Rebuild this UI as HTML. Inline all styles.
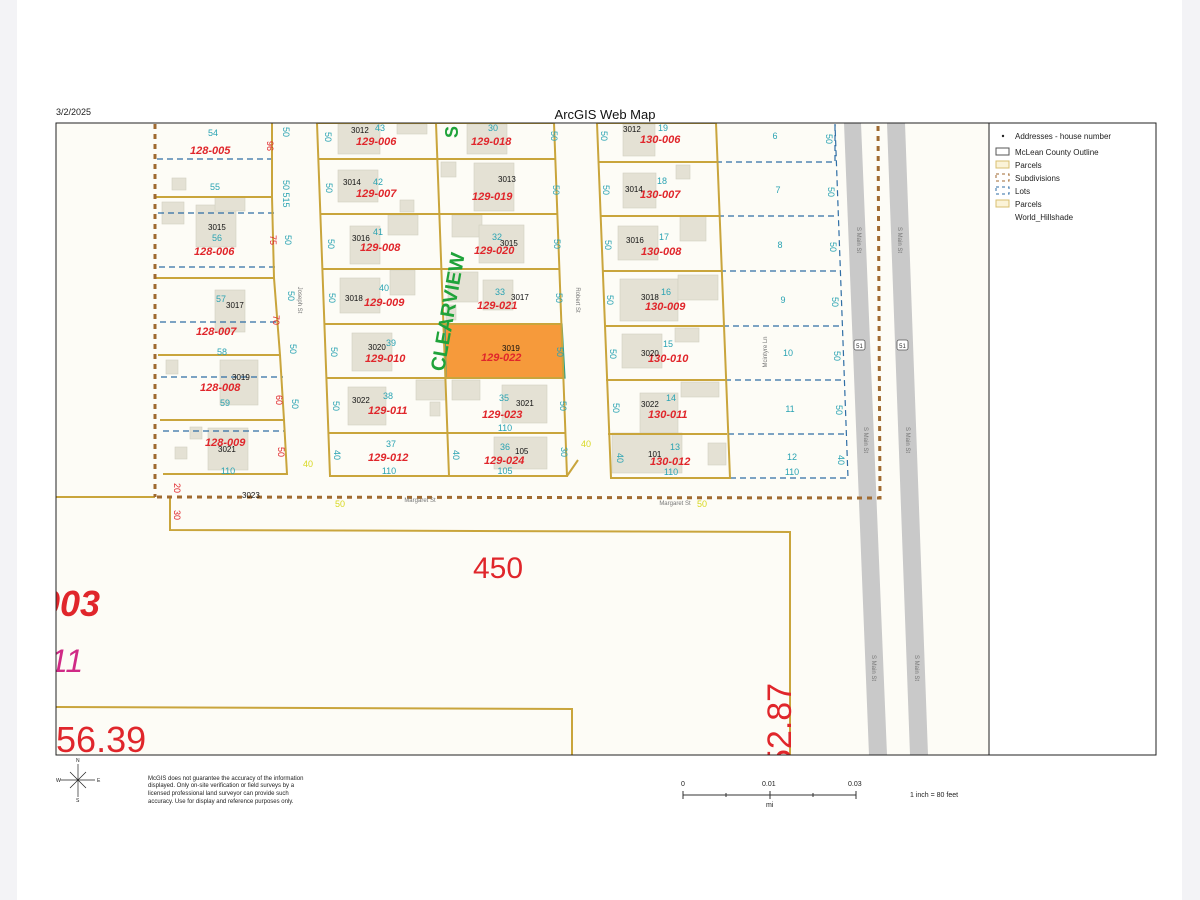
<!DOCTYPE html>
<html><head><meta charset="utf-8"><style>
html,body{margin:0;padding:0;background:#f3f3f6;}
svg{display:block}
text{font-family:"Liberation Sans",sans-serif}
.r{fill:#e0262b;font-weight:bold;font-style:italic;font-size:11px}
.t{fill:#2aa3b3;font-size:9px}
.d{fill:#2aa3b3;font-size:9px}
.a{fill:#111;font-size:8px}
.p{fill:none;stroke:#c9a53c;stroke-width:2}
.l{fill:none;stroke:#2f6ea5;stroke-width:1.2;stroke-dasharray:6,4}
.h{fill:#e4e1d4;stroke:#d3d0c2;stroke-width:.6}
.g{fill:#777;font-size:6px}
</style></head><body>
<svg width="1200" height="900" xmlns="http://www.w3.org/2000/svg">
<defs><clipPath id="m"><rect x="56" y="123" width="933" height="632"/></clipPath></defs>
<rect x="17" y="0" width="1165" height="900" fill="#fff"/>
<rect x="56" y="123" width="933" height="632" fill="#fdfcf6"/>
<text x="56" y="115" font-size="9" fill="#222">3/2/2025</text>
<text x="605" y="119" font-size="13" fill="#111" text-anchor="middle">ArcGIS Web Map</text>

<g clip-path="url(#m)">
<polygon points="844,123 861,123 887,755 869,755" fill="#c9c9c9"/>
<polygon points="887,123 905,123 928,755 910,755" fill="#c9c9c9"/>

<g class="h">
<rect x="172" y="178" width="14" height="12"/><rect x="196" y="205" width="40" height="42"/><rect x="162" y="202" width="22" height="22"/><rect x="215" y="197" width="30" height="14"/>
<rect x="215" y="290" width="30" height="42"/><rect x="220" y="360" width="38" height="45"/><rect x="166" y="360" width="12" height="14"/>
<rect x="208" y="428" width="40" height="42"/><rect x="190" y="427" width="12" height="12"/><rect x="175" y="447" width="12" height="12"/>
<rect x="338" y="124" width="42" height="30"/><rect x="397" y="124" width="30" height="10"/>
<rect x="338" y="170" width="40" height="32"/><rect x="400" y="200" width="14" height="12"/>
<rect x="350" y="226" width="30" height="38"/><rect x="388" y="215" width="30" height="20"/>
<rect x="340" y="278" width="40" height="35"/><rect x="390" y="270" width="25" height="25"/>
<rect x="352" y="333" width="40" height="38"/>
<rect x="348" y="387" width="38" height="38"/><rect x="416" y="380" width="30" height="20"/><rect x="430" y="402" width="10" height="14"/>
<rect x="467" y="124" width="40" height="30"/>
<rect x="441" y="162" width="15" height="15"/><rect x="474" y="163" width="40" height="48"/>
<rect x="452" y="215" width="30" height="22"/><rect x="479" y="225" width="45" height="38"/>
<rect x="448" y="272" width="30" height="30"/><rect x="483" y="280" width="30" height="30"/><rect x="446" y="305" width="10" height="15"/>
<rect x="452" y="380" width="28" height="20"/><rect x="502" y="385" width="45" height="38"/>
<rect x="494" y="437" width="53" height="32"/>
<rect x="623" y="124" width="32" height="32"/><rect x="623" y="173" width="33" height="35"/><rect x="676" y="165" width="14" height="14"/>
<rect x="618" y="226" width="40" height="34"/><rect x="680" y="216" width="26" height="25"/>
<rect x="620" y="279" width="58" height="42"/><rect x="678" y="275" width="40" height="25"/>
<rect x="622" y="334" width="40" height="34"/><rect x="675" y="328" width="24" height="14"/>
<rect x="640" y="393" width="38" height="40"/><rect x="681" y="382" width="38" height="15"/>
<rect x="612" y="433" width="70" height="40"/><rect x="708" y="443" width="18" height="22"/>
</g>

<polygon points="445,324 562,324 565,378 446,378" fill="#f5912a" opacity=".92"/>
<polygon points="445,324 562,324 565,378 446,378" fill="none" stroke="#2a9f8a" stroke-width="1.2"/>

<g class="l">
<line x1="157" y1="159" x2="273" y2="159"/><line x1="158" y1="213" x2="275" y2="213"/><line x1="159" y1="267" x2="277" y2="267"/>
<line x1="160" y1="322" x2="280" y2="322"/><line x1="161" y1="377" x2="283" y2="377"/><line x1="163" y1="431" x2="285" y2="431"/>
<polyline points="716,162 835,162 835,124"/><line x1="718" y1="216" x2="838" y2="216"/><line x1="720" y1="271" x2="840" y2="271"/>
<line x1="723" y1="326" x2="842" y2="326"/><line x1="725" y1="380" x2="845" y2="380"/><line x1="728" y1="434" x2="846" y2="434"/>
<polyline points="730,478 848,478 835,124"/>
</g>

<g class="p">
<polyline points="155,197 272,197 272,123"/>
<polyline points="156,278 274,278 272,197"/>
<polyline points="158,355 280,355 274,278"/>
<polyline points="160,420 284,420 280,355"/>
<polyline points="163,474 287,474 284,420"/>
<polygon points="317,123 436,123 449,476 330,476"/>
<polyline points="436,123 554,123 567,476 449,476"/>
<line x1="318" y1="159" x2="555" y2="159"/><line x1="320" y1="214" x2="557" y2="214"/>
<line x1="322" y1="269" x2="559" y2="269"/><line x1="324" y1="324" x2="561" y2="324"/>
<line x1="326" y1="378" x2="563" y2="378"/><line x1="328" y1="433" x2="565" y2="433"/>
<polyline points="567,476 578,460"/>
<polygon points="597,123 716,123 730,478 611,478"/>
<line x1="598" y1="162" x2="717" y2="162"/><line x1="600" y1="216" x2="719" y2="216"/>
<line x1="602" y1="271" x2="721" y2="271"/><line x1="604" y1="326" x2="723" y2="326"/>
<line x1="606" y1="380" x2="725" y2="380"/><line x1="608" y1="434" x2="727" y2="434"/>
<polyline points="170,497 170,530 790,532 790,755"/>
<polyline points="56,707 572,709 572,755"/>
<line x1="56" y1="497" x2="155" y2="497"/>
</g>
<g fill="none" stroke="#a06a30" stroke-width="3" stroke-dasharray="5,5">
<line x1="155" y1="124" x2="155" y2="497"/>
<polyline points="157,497 880,498 878,124"/>
</g>

<text x="498" y="578" font-size="30" fill="#e0262b" text-anchor="middle">450</text>
<text x="40" y="616" font-size="36" font-weight="bold" font-style="italic" fill="#e0262b">003</text>
<text x="50" y="672" font-size="32" font-style="italic" fill="#d02a86">11</text>
<text x="36" y="752" font-size="36" fill="#e0262b">656.39</text>
<text transform="translate(791,768) rotate(-90)" font-size="34" fill="#e0262b">52.87</text>
<text transform="translate(444,372) rotate(-80)" font-size="20" font-weight="bold" fill="#1fa33a">CLEARVIEW</text>
<text transform="translate(458,138) rotate(-90)" font-size="18" font-weight="bold" fill="#1fa33a">S</text>

<g class="r">
<text x="190" y="154">128-005</text><text x="194" y="255">128-006</text><text x="196" y="335">128-007</text>
<text x="200" y="391">128-008</text><text x="205" y="446">128-009</text>
<text x="356" y="145">129-006</text><text x="356" y="197">129-007</text><text x="360" y="251">129-008</text>
<text x="364" y="306">129-009</text><text x="365" y="362">129-010</text><text x="368" y="414">129-011</text>
<text x="368" y="461">129-012</text>
<text x="471" y="145">129-018</text><text x="472" y="200">129-019</text><text x="474" y="254">129-020</text>
<text x="477" y="309">129-021</text><text x="481" y="361">129-022</text><text x="482" y="418">129-023</text>
<text x="484" y="464">129-024</text>
<text x="640" y="143">130-006</text><text x="640" y="198">130-007</text><text x="641" y="255">130-008</text>
<text x="645" y="310">130-009</text><text x="648" y="362">130-010</text><text x="648" y="418">130-011</text>
<text x="650" y="465">130-012</text>
</g>
<g class="t" text-anchor="middle">
<text x="213" y="136">54</text><text x="215" y="190">55</text><text x="217" y="241">56</text><text x="221" y="302">57</text>
<text x="222" y="355">58</text><text x="225" y="406">59</text><text x="228" y="474">110</text>
<text x="380" y="131">43</text><text x="378" y="185">42</text><text x="378" y="235">41</text><text x="384" y="291">40</text>
<text x="391" y="346">39</text><text x="388" y="399">38</text><text x="391" y="447">37</text><text x="389" y="474">110</text>
<text x="493" y="131">30</text><text x="497" y="240">32</text><text x="500" y="295">33</text><text x="504" y="401">35</text>
<text x="505" y="431">110</text><text x="505" y="450">36</text><text x="505" y="474">105</text>
<text x="663" y="131">19</text><text x="662" y="184">18</text><text x="664" y="240">17</text><text x="666" y="295">16</text>
<text x="668" y="347">15</text><text x="671" y="401">14</text><text x="675" y="450">13</text><text x="671" y="475">110</text>
<text x="775" y="139">6</text><text x="778" y="193">7</text><text x="780" y="248">8</text><text x="783" y="303">9</text>
<text x="788" y="356">10</text><text x="790" y="412">11</text><text x="792" y="460">12</text><text x="792" y="475">110</text>
</g>
<g class="a">
<text x="351" y="133">3012</text><text x="343" y="185">3014</text><text x="352" y="241">3016</text><text x="345" y="301">3018</text>
<text x="368" y="350">3020</text><text x="352" y="403">3022</text><text x="498" y="182">3013</text><text x="500" y="246">3015</text>
<text x="511" y="300">3017</text><text x="502" y="351">3019</text><text x="516" y="406">3021</text><text x="515" y="454">105</text>
<text x="208" y="230">3015</text><text x="226" y="308">3017</text><text x="232" y="380">3019</text><text x="218" y="452">3021</text>
<text x="623" y="132">3012</text><text x="625" y="192">3014</text><text x="626" y="243">3016</text><text x="641" y="300">3018</text>
<text x="641" y="356">3020</text><text x="641" y="407">3022</text><text x="648" y="457">101</text>
<text x="242" y="498">3023</text>
</g>
<g class="d" text-anchor="middle">
<text transform="translate(283,132) rotate(90)">50</text><text transform="translate(283,185) rotate(90)">50</text><text transform="translate(283,200) rotate(90)">515</text>
<text transform="translate(285,240) rotate(90)">50</text><text transform="translate(288,296) rotate(90)">50</text><text transform="translate(290,349) rotate(90)">50</text>
<text transform="translate(292,404) rotate(90)">50</text>
<text transform="translate(325,137) rotate(90)">50</text><text transform="translate(326,188) rotate(90)">50</text><text transform="translate(328,244) rotate(90)">50</text>
<text transform="translate(329,298) rotate(90)">50</text><text transform="translate(331,352) rotate(90)">50</text><text transform="translate(333,406) rotate(90)">50</text>
<text transform="translate(334,455) rotate(90)">40</text><text transform="translate(453,455) rotate(90)">40</text>
<text transform="translate(551,136) rotate(90)">50</text><text transform="translate(553,190) rotate(90)">50</text><text transform="translate(554,244) rotate(90)">50</text>
<text transform="translate(556,298) rotate(90)">50</text><text transform="translate(557,352) rotate(90)">50</text><text transform="translate(560,406) rotate(90)">50</text>
<text transform="translate(561,452) rotate(90)">30</text>
<text transform="translate(601,136) rotate(90)">50</text><text transform="translate(603,190) rotate(90)">50</text><text transform="translate(605,245) rotate(90)">50</text>
<text transform="translate(607,300) rotate(90)">50</text><text transform="translate(610,354) rotate(90)">50</text><text transform="translate(613,408) rotate(90)">50</text>
<text transform="translate(617,458) rotate(90)">40</text>
<text transform="translate(826,139) rotate(90)">50</text><text transform="translate(828,192) rotate(90)">50</text><text transform="translate(830,247) rotate(90)">50</text>
<text transform="translate(832,302) rotate(90)">50</text><text transform="translate(834,356) rotate(90)">50</text><text transform="translate(836,410) rotate(90)">50</text>
<text transform="translate(838,460) rotate(90)">40</text>
</g>
<g fill="#e0262b" font-size="9" text-anchor="middle">
<text transform="translate(267,146) rotate(90)">96</text><text transform="translate(270,240) rotate(90)">75</text>
<text transform="translate(273,320) rotate(90)">70</text><text transform="translate(276,400) rotate(90)">60</text>
<text transform="translate(278,452) rotate(90)">50</text><text transform="translate(174,488) rotate(90)">20</text>
<text transform="translate(174,515) rotate(90)">30</text>
</g>
<g fill="#d8d820" font-size="9" text-anchor="middle">
<text x="308" y="467">40</text><text x="586" y="447">40</text><text x="340" y="507">50</text><text x="702" y="507">50</text>
</g>
<g class="g" text-anchor="middle">
<text transform="translate(298,300) rotate(90)">Joseph St</text><text transform="translate(576,300) rotate(90)">Robert St</text>
<text transform="translate(767,352) rotate(-90)">Mcintyre Ln</text>
<text x="420" y="502">Margaret St</text><text x="675" y="505">Margaret St</text>
<text transform="translate(857,240) rotate(90)">S Main St</text><text transform="translate(898,240) rotate(90)">S Main St</text>
<text transform="translate(864,440) rotate(90)">S Main St</text><text transform="translate(906,440) rotate(90)">S Main St</text>
<text transform="translate(872,668) rotate(90)">S Main St</text><text transform="translate(915,668) rotate(90)">S Main St</text>
</g>
<g fill="#fff" stroke="#555" stroke-width=".8"><rect x="854" y="340" width="11" height="10" rx="2"/><rect x="897" y="340" width="11" height="10" rx="2"/></g>
<g font-size="6" fill="#333" text-anchor="middle"><text x="859.5" y="348">51</text><text x="902.5" y="348">51</text></g>
</g>

<rect x="56" y="123" width="1100" height="632" fill="none" stroke="#222" stroke-width="1"/>
<line x1="989" y1="123" x2="989" y2="755" stroke="#222"/>
<rect x="990" y="124" width="165" height="630" fill="#fff"/>
<g font-size="8" fill="#222">
<circle cx="1003" cy="136" r="1.2" fill="#222"/><text x="1015" y="139">Addresses - house number</text>
<rect x="996" y="148" width="13" height="7" fill="none" stroke="#555"/><text x="1015" y="155">McLean County Outline</text>
<rect x="996" y="161" width="13" height="7" fill="#fbf3d8" stroke="#d8bf70"/><text x="1015" y="168">Parcels</text>
<rect x="996" y="174" width="13" height="7" fill="none" stroke="#a06a30" stroke-dasharray="3,3"/><text x="1015" y="181">Subdivisions</text>
<rect x="996" y="187" width="13" height="7" fill="none" stroke="#2f6ea5" stroke-dasharray="3,3"/><text x="1015" y="194">Lots</text>
<rect x="996" y="200" width="13" height="7" fill="#fbf3d8" stroke="#d8bf70"/><text x="1015" y="207">Parcels</text>
<text x="1015" y="220">World_Hillshade</text>
</g>

<g stroke="#222" stroke-width=".7">
<line x1="78" y1="764" x2="78" y2="797"/><line x1="60" y1="780" x2="95" y2="780"/>
<line x1="70" y1="772" x2="86" y2="788"/><line x1="86" y1="772" x2="70" y2="788"/>
</g>
<g font-size="5" fill="#222"><text x="76" y="762">N</text><text x="76" y="802">S</text><text x="56" y="782">W</text><text x="97" y="782">E</text></g>
<g font-size="6" fill="#222">
<text x="148" y="780">McGIS does not guarantee the accuracy of the information</text>
<text x="148" y="787">displayed.  Only on-site verification or field surveys by a</text>
<text x="148" y="795">licensed professional land surveyor can provide such</text>
<text x="148" y="803">accuracy.  Use for display and reference purposes only.</text>
</g>
<g stroke="#333" stroke-width="1"><line x1="683" y1="795" x2="856" y2="795"/>
<line x1="683" y1="791" x2="683" y2="799"/><line x1="726" y1="793" x2="726" y2="797"/><line x1="770" y1="791" x2="770" y2="799"/>
<line x1="813" y1="793" x2="813" y2="797"/><line x1="856" y1="791" x2="856" y2="799"/></g>
<g font-size="7" fill="#222"><text x="681" y="786">0</text><text x="762" y="786">0.01</text><text x="848" y="786">0.03</text>
<text x="766" y="807">mi</text><text x="910" y="797">1 inch = 80 feet</text></g>
</svg>
</body></html>
